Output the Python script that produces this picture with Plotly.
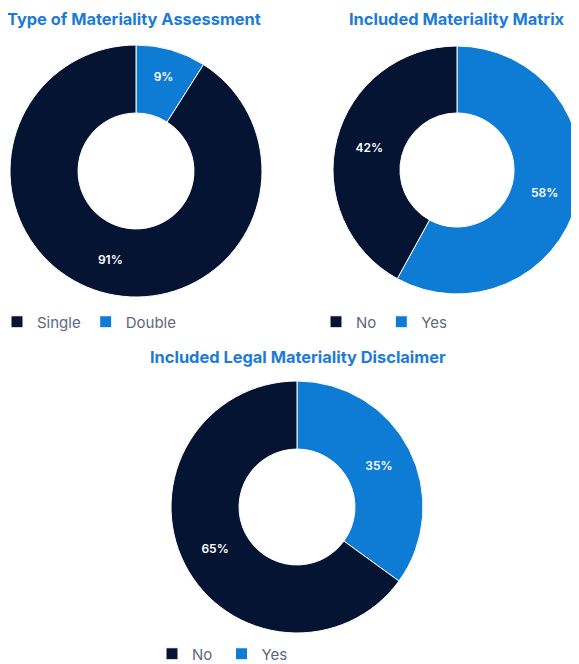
import plotly.graph_objects as go

# chart data (blue slice listed first so it starts at 12 o'clock)
titles = ["Type of Materiality Assessment", "Included Materiality Matrix",
          "Included Legal Materiality Disclaimer"]
type_labels = ["Double", "Single"]
type_values = [9, 91]
matrix_labels = ["Yes", "No"]
matrix_values = [58, 42]
# trailing space keeps these slices from merging with the matrix legend entries
disclaimer_labels = ["Yes ", "No "]
disclaimer_values = [35, 65]

NAVY = "#061434"
BLUE = "#0E7BD4"
TITLE_BLUE = "#1B7BD6"
GREY = "#5F6680"
FONT = "Inter"

W, H = 579, 664
OFF = 8  # page body margin


def fx(page_x):
    return (page_x - OFF) / W


def fy(page_y):
    return 1 - (page_y - OFF) / H


def dom(left, right, top, bottom):
    return dict(x=[max(fx(left), 0), min(fx(right), 1)],
                y=[max(fy(bottom), 0), min(fy(top), 1)])


def donut(labels, values, domain, legend):
    return go.Pie(
        labels=labels, values=values,
        hole=0.46, sort=False, direction="clockwise", rotation=0,
        marker=dict(colors=[BLUE, NAVY], line=dict(color="white", width=1)),
        texttemplate="%{value}%",
        textposition="inside", insidetextorientation="horizontal",
        textfont=dict(color="white", size=12, family=FONT, weight=600),
        domain=domain, legend=legend,
        hoverinfo="label+percent",
    )


fig = go.Figure()
fig.add_trace(donut(type_labels, type_values, dom(10, 262, 45, 297), "legend"))
fig.add_trace(donut(matrix_labels, matrix_values, dom(333, 581, 46, 294), "legend2"))
fig.add_trace(donut(disclaimer_labels, disclaimer_values, dom(171, 423, 381, 633), "legend3"))

leg = dict(orientation="h", xanchor="left", yanchor="middle", traceorder="reversed",
           font=dict(family=FONT, size=15, color=GREY),
           bgcolor="rgba(0,0,0,0)", itemclick=False)

title_font = dict(family=FONT, size=16.4, color=TITLE_BLUE, weight=700)

fig.update_layout(
    width=W, height=H,
    margin=dict(l=0, r=0, t=0, b=0, autoexpand=False),
    paper_bgcolor="white", plot_bgcolor="white",
    showlegend=True,
    legend=dict(leg, x=fx(-3), y=fy(322)),
    legend2=dict(leg, x=fx(316), y=fy(322)),
    legend3=dict(leg, x=fx(152), y=fy(654)),
    annotations=[
        dict(text=titles[0], x=fx(5), y=fy(19), xref="paper", yref="paper",
             xanchor="left", yanchor="middle", showarrow=False, font=title_font),
        dict(text=titles[1], x=fx(567), y=fy(19), xref="paper", yref="paper",
             xanchor="right", yanchor="middle", showarrow=False, font=title_font),
        dict(text=titles[2], x=fx(298), y=fy(357), xref="paper", yref="paper",
             xanchor="center", yanchor="middle", showarrow=False, font=title_font),
    ],
)

fig.write_html("out.html")
